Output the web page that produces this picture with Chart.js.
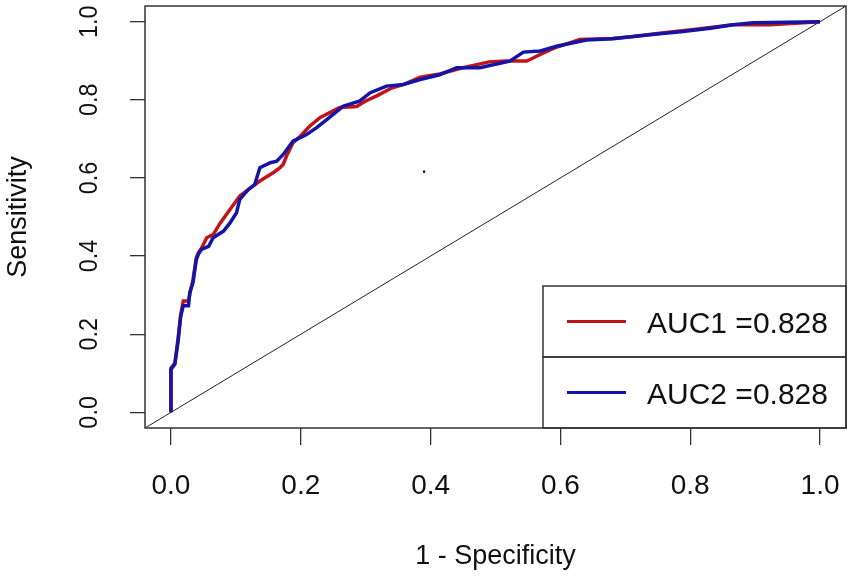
<!DOCTYPE html>
<html>
<head>
<meta charset="utf-8">
<script src="https://cdn.jsdelivr.net/npm/chart.js@4/dist/chart.umd.min.js"></script>
<style>
  html, body { margin: 0; padding: 0; background: #fff; }
  #wrap { width: 851px; height: 579px; position: relative; }
</style>
</head>
<body>
<div id="wrap"><canvas id="roc"></canvas></div>
<script>
// =============== DATA ===============

const tickValues = [0, 0.2, 0.4, 0.6, 0.8, 1.0];
const axisMin = -0.04;
const axisMax = 1.04;

// ROC curve 1 (red): 1 - specificity, sensitivity
const rocX1 = [0, 0, 0.006, 0.011, 0.015, 0.019, 0.027, 0.030, 0.034, 0.039, 0.042, 0.047, 0.055,
  0.065, 0.076, 0.091, 0.106, 0.119, 0.137, 0.158, 0.168, 0.173, 0.178, 0.188, 0.200, 0.214, 0.230,
  0.260, 0.286, 0.300, 0.317, 0.340, 0.360, 0.384, 0.414, 0.445, 0.471, 0.490, 0.515, 0.548, 0.558,
  0.569, 0.590, 0.630, 0.680, 0.712, 0.753, 0.805, 0.831, 0.866, 0.923, 1.0];
const rocY1 = [0, 0.113, 0.126, 0.190, 0.250, 0.285, 0.285, 0.310, 0.340, 0.395, 0.408, 0.420, 0.447,
  0.455, 0.485, 0.519, 0.554, 0.570, 0.592, 0.614, 0.626, 0.635, 0.656, 0.690, 0.708, 0.733, 0.755,
  0.780, 0.783, 0.797, 0.810, 0.830, 0.840, 0.858, 0.866, 0.880, 0.890, 0.897, 0.899, 0.899, 0.907,
  0.916, 0.932, 0.954, 0.957, 0.962, 0.970, 0.980, 0.985, 0.992, 0.992, 1.0];

// ROC curve 2 (blue)
const rocX2 = [0, 0, 0.006, 0.011, 0.015, 0.019, 0.027, 0.029, 0.034, 0.039, 0.042, 0.047, 0.058,
  0.065, 0.081, 0.091, 0.101, 0.106, 0.119, 0.129, 0.137, 0.153, 0.163, 0.173, 0.188, 0.209, 0.224,
  0.240, 0.265, 0.291, 0.307, 0.332, 0.358, 0.384, 0.414, 0.440, 0.476, 0.486, 0.522, 0.543, 0.569,
  0.594, 0.640, 0.681, 0.712, 0.753, 0.789, 0.831, 0.866, 0.897, 1.0];
const rocY2 = [0, 0.110, 0.123, 0.182, 0.246, 0.273, 0.273, 0.307, 0.332, 0.391, 0.404, 0.417, 0.425,
  0.447, 0.464, 0.485, 0.511, 0.545, 0.570, 0.583, 0.626, 0.639, 0.643, 0.660, 0.694, 0.711, 0.728,
  0.749, 0.783, 0.797, 0.818, 0.835, 0.839, 0.852, 0.864, 0.882, 0.882, 0.886, 0.899, 0.922, 0.925,
  0.937, 0.953, 0.956, 0.962, 0.969, 0.975, 0.983, 0.992, 0.997, 1.0];

// reference diagonal and the stray dot in the plot
const diagX = [axisMin, axisMax];
const diagY = [axisMin, axisMax];
const dotX = [0.390];
const dotY = [0.616];

const seriesLabels = ["AUC1 =0.828", "AUC2 =0.828"];
const seriesColors = ["#c01418", "#1414a8"];

const FONT = "'Liberation Sans', Arial, sans-serif";

function toPoints(xs, ys) {
  return xs.map((x, i) => ({ x, y: ys[i] }));
}

// =============== PLUGIN: box, y labels, legend ===============

const rocDecor = {
  id: "rocDecor",
  afterDraw(chart) {
    const ctx = chart.ctx;
    const area = chart.chartArea;
    const yScale = chart.scales.y;

    ctx.save();
    // plot box
    ctx.strokeStyle = "#333";
    ctx.lineWidth = 1.5;
    ctx.strokeRect(area.left, area.top, area.right - area.left, area.bottom - area.top);

    // rotated y tick labels (R style, parallel to axis)
    ctx.fillStyle = "#111";
    ctx.font = "26px " + FONT;
    ctx.textAlign = "center";
    ctx.textBaseline = "middle";
    yScale.ticks.forEach((t) => {
      const py = yScale.getPixelForValue(t.value);
      ctx.save();
      ctx.translate(90, py);
      ctx.rotate(-Math.PI / 2);
      ctx.scale(0.9, 1);
      ctx.fillText(t.value.toFixed(1), 0, 0);
      ctx.restore();
    });

    // legend: two stacked boxes in the bottom-right corner
    const boxW = 303;
    const rowH = 71;
    const left = area.right - boxW;
    seriesLabels.forEach((label, i) => {
      const top = area.bottom - rowH * (seriesLabels.length - i);
      const cy = top + rowH / 2;
      ctx.strokeStyle = "#333";
      ctx.lineWidth = 1.5;
      ctx.strokeRect(left, top, boxW, rowH);
      ctx.strokeStyle = seriesColors[i];
      ctx.lineWidth = 3;
      ctx.beginPath();
      ctx.moveTo(left + 24, cy);
      ctx.lineTo(left + 83, cy);
      ctx.stroke();
      ctx.fillStyle = "#111";
      ctx.font = "30px " + FONT;
      ctx.textAlign = "left";
      ctx.textBaseline = "middle";
      ctx.fillText(label, left + 104, cy + 3);
    });
    ctx.restore();
  },
};

// =============== CHART ===============

function loadRocChart() {
  const ctx = document.getElementById("roc");

  new Chart(ctx, {
    type: "scatter",
    data: {
      datasets: [
        {
          label: "diagonal",
          data: toPoints(diagX, diagY),
          showLine: true,
          borderColor: "#222",
          borderWidth: 1,
          pointRadius: 0,
          order: 4,
        },
        {
          label: seriesLabels[0],
          data: toPoints(rocX1, rocY1),
          showLine: true,
          borderColor: seriesColors[0],
          borderWidth: 3.5,
          pointRadius: 0,
          tension: 0,
          order: 3,
        },
        {
          label: seriesLabels[1],
          data: toPoints(rocX2, rocY2),
          showLine: true,
          borderColor: seriesColors[1],
          borderWidth: 3.5,
          pointRadius: 0,
          tension: 0,
          order: 2,
        },
        {
          label: "dot",
          data: toPoints(dotX, dotY),
          pointRadius: 1.3,
          pointBackgroundColor: "#222",
          pointBorderWidth: 0,
          order: 1,
        },
      ],
    },
    options: {
      responsive: true,
      maintainAspectRatio: false,
      animation: false,
      layout: { padding: { top: 6, right: 5, left: 0, bottom: 0 } },
      plugins: {
        legend: { display: false },
        tooltip: { enabled: false },
      },
      scales: {
        x: {
          type: "linear",
          min: axisMin,
          max: axisMax,
          afterBuildTicks: (s) => { s.ticks = tickValues.map((v) => ({ value: v })); },
          afterFit: (s) => {
            s.height = 151;
            s.paddingLeft = 0;
            s.paddingRight = 0;
          },
          border: { display: false },
          grid: { drawOnChartArea: false, drawTicks: true, tickLength: 17, color: "#333", lineWidth: 1.3 },
          ticks: {
            color: "#111",
            font: { family: FONT, size: 28 },
            padding: 24,
            maxRotation: 0,
            callback: (v) => Number(v).toFixed(1),
          },
          title: {
            display: true,
            text: "1 - Specificity",
            color: "#111",
            font: { family: FONT, size: 27, lineHeight: 1.25 },
            padding: { top: 0, bottom: 6 },
          },
        },
        y: {
          type: "linear",
          min: axisMin,
          max: axisMax,
          afterBuildTicks: (s) => { s.ticks = tickValues.map((v) => ({ value: v })); },
          afterFit: (s) => {
            s.width = 145;
            s.paddingTop = 0;
            s.paddingBottom = 0;
          },
          border: { display: false },
          grid: { drawOnChartArea: false, drawTicks: true, tickLength: 15, color: "#333", lineWidth: 1.3 },
          ticks: { display: false },
          title: {
            display: true,
            text: "Sensitivity",
            color: "#111",
            font: { family: FONT, size: 27, lineHeight: 1.25 },
            padding: { top: 2, bottom: 0 },
          },
        },
      },
    },
    plugins: [rocDecor],
  });
}

// =============== INIT ===============

document.addEventListener("DOMContentLoaded", () => {
  loadRocChart();
});
</script>
</body>
</html>
